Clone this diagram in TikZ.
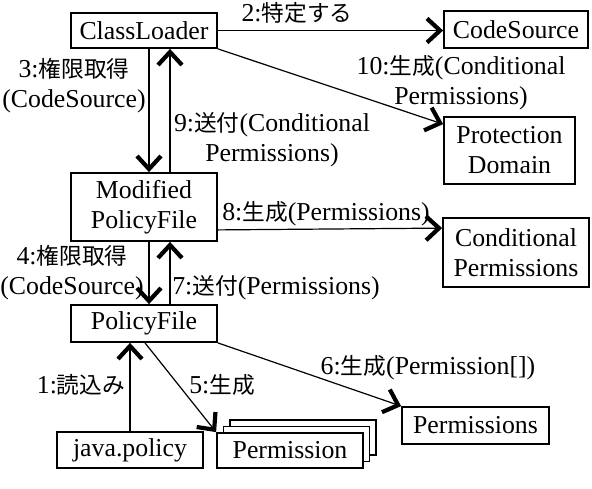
\documentclass[tikz,border=0pt]{standalone}
\usepackage{fontspec}
\setmainfont{Liberation Serif}
\newfontfamily\jpfont{Noto Sans CJK JP}[Scale=0.88]
\usetikzlibrary{arrows.meta,calc}

\tikzset{
  box/.style={draw,line width=0.9pt,inner sep=0pt,minimum width=73pt,align=center},
  arr/.style={line width=0.6pt,-{Straight Barb[length=6.5pt,width=12pt,line width=2.1pt]}},
  lbl/.style={inner sep=0pt,align=center}
}

\begin{document}
\begin{tikzpicture}[x=0.5pt,y=-0.5pt,font=\fontsize{12.9}{15}\selectfont]
    \useasboundingbox (0,0) rectangle (592,488);

    % classes
    \node[box,minimum height=17.5pt] (cl) at (144,30.5) {ClassLoader};
    \node[box,minimum width=72pt,minimum height=18.5pt] (cs) at (516,29.5) {CodeSource};
    \node[box,minimum width=65.5pt,minimum height=33.5pt] (pd) at (509.5,150.5) {Protection\\Domain};
    \node[box,minimum height=34pt] (mpf) at (144,207) {Modified\\PolicyFile};
    \node[box,minimum height=34.5pt] (cp) at (516,252.5) {Conditional\\Permissions};
    \node[box,minimum height=18.5pt] (pf) at (144,323.5) {PolicyFile};
    \node[box,minimum height=18pt] (jp) at (130,450) {java.policy};
    \node[box,minimum height=17.5pt,fill=white] (perm3) at (303,437.5) {};
    \node[box,minimum height=17.5pt,fill=white] (perm2) at (296.5,444) {};
    \node[box,minimum height=17.5pt,fill=white] (perm) at (290,450.5) {Permission};
    \node[box,minimum width=73.5pt,minimum height=18.5pt] (pms) at (475.5,425.5) {Permissions};

    % messages
    \draw[arr] (cl.east) -- (cl.east -| cs.west);
    \draw[arr] (cl.south east) -- ($(pd.north west)+(0,8)$);
    \draw[arr] ($(cl.south)+(5,0)$) -- ($(mpf.north)+(5,0)$);
    \draw[arr] ($(mpf.north)+(26,0)$) -- ($(cl.south)+(26,0)$);
    \draw[arr] ($(mpf.south)+(5,0)$) -- ($(pf.north)+(5,0)$);
    \draw[arr] ($(pf.north)+(26,0)$) -- ($(mpf.south)+(26,0)$);
    \draw[arr] ($(mpf.south east)+(0,-12)$) -- ($(cp.north west)+(0,11)$);
    \draw[arr] (jp.north) -- (jp.north |- pf.south);
    \draw[arr] ($(pf.south)+(1,0)$) -- (perm.north west);
    \draw[arr] (pf.south east) -- (pms.north west);

    \node[lbl] (l2) at (297,13) {2:{\jpfont 特定する}};
    \node[lbl] (l10) at (461,83) {10:{\jpfont 生成}(Conditional\\Permissions)};
    \node[lbl] (l3) at (74,86) {3:{\jpfont 権限取得}\\(CodeSource)};
    \node[lbl] (l9) at (272,140) {9:{\jpfont 送付}(Conditional\\Permissions)};
    \node[lbl] (l8) at (326,214) {8:{\jpfont 生成}(Permissions)};
    \node[lbl] (l4) at (72,273) {4:{\jpfont 権限取得}\\(CodeSource)};
    \node[lbl] (l7) at (276,288) {7:{\jpfont 送付}(Permissions)};
    \node[lbl] (l1) at (81,385) {1:{\jpfont 読込み}};
    \node[lbl] (l5) at (222,385) {5:{\jpfont 生成}};
    \node[lbl] (l6) at (428,368) {6:{\jpfont 生成}(Permission[])};
\end{tikzpicture}
\end{document}
